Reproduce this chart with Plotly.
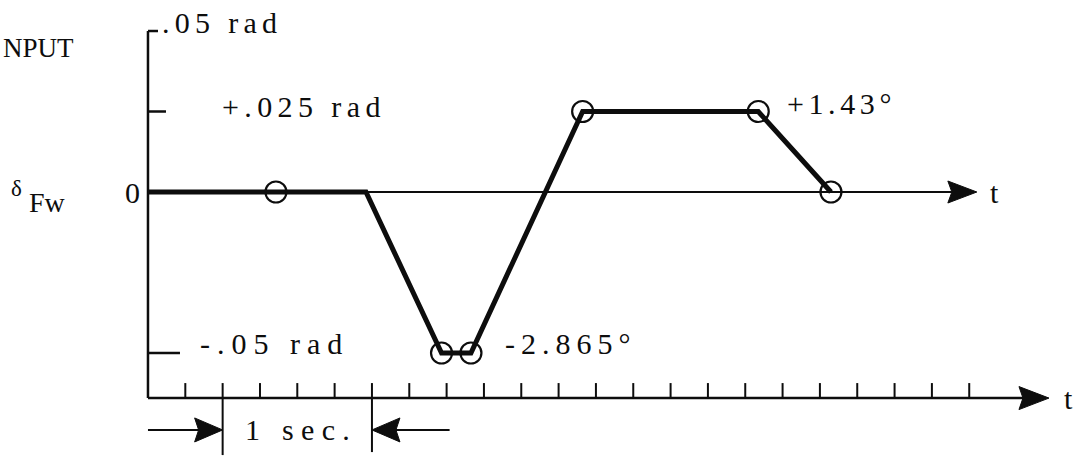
import plotly.graph_objects as go

W, H = 1086, 456

# Input profile: time in seconds, deflection in rad
time_s = [0.0, 1.46, 1.966, 2.163, 2.911, 4.087, 4.574]
delta_rad = [0.0, 0.0, -0.05, -0.05, 0.025, 0.025, 0.0]

# Circled points on the profile
mark_time = [0.857, 1.966, 2.163, 2.911, 4.087, 4.574]
mark_rad = [0.0, -0.05, -0.05, 0.025, 0.025, 0.0]

# Vertical scale marks
scale_values = [0.05, 0.025, -0.05]
scale_labels = [".05 rad", "+.025 rad", "-.05 rad"]

# Quarter-second divisions on the time base
tick_times = [0.25, 0.5, 0.75, 1.0, 1.25, 1.5, 1.75, 2.0, 2.25, 2.5, 2.75,
              3.0, 3.25, 3.5, 3.75, 4.0, 4.25, 4.5, 4.75, 5.0, 5.25, 5.5]

X_RANGE = [-0.991, 6.282]
Y_RANGE = [-0.08199, 0.05963]
XPX = W / (X_RANGE[1] - X_RANGE[0])   # pixels per second
YPX = H / (Y_RANGE[1] - Y_RANGE[0])   # pixels per rad

T_AXIS_Y = -0.064        # level of the lower time base
ZERO_AXIS_END = 5.551    # tip of the arrow on the zero line
T_AXIS_END = 6.034       # tip of the arrow on the time base
DIM_Y = -0.0739          # level of the "1 sec." dimension arrows

FONT = dict(family="Liberation Serif", size=30, color="#0d0d0d")
INK = "#0d0d0d"


def dx(px):
    return px / XPX


def dy(px):
    return px / YPX


def spaced(text, px=6):
    return f'<span style="letter-spacing:{px}px">{text}</span>'


def head(tip_x, tip_y, direction, length=29, half=11, notch=4):
    bx = tip_x - direction * dx(length)
    nx = tip_x - direction * dx(length - notch)
    hy = dy(half)
    return dict(type="path", xref="x", yref="y",
                path=f"M {tip_x},{tip_y} L {bx},{tip_y + hy} L {nx},{tip_y} "
                     f"L {bx},{tip_y - hy} Z",
                fillcolor=INK, line=dict(color=INK, width=1), layer="above")


def seg(x0, y0, x1, y1, width=2.5):
    return dict(type="line", xref="x", yref="y", x0=x0, y0=y0, x1=x1, y1=y1,
                line=dict(color=INK, width=width), layer="below")


shapes = []
# vertical axis with its top hook
shapes.append(seg(0, scale_values[0], 0, T_AXIS_Y))
shapes.append(seg(0, scale_values[0], dx(10), scale_values[0]))
# scale ticks
shapes.append(seg(0, scale_values[1], dx(18), scale_values[1]))
shapes.append(seg(0, scale_values[2], dx(32), scale_values[2]))
# zero line with arrow
shapes.append(seg(0, 0, ZERO_AXIS_END - dx(25), 0, width=2))
shapes.append(head(ZERO_AXIS_END, 0, 1))
# time base with divisions and arrow
shapes.append(seg(0, T_AXIS_Y, T_AXIS_END - dx(25), T_AXIS_Y))
for t in tick_times:
    shapes.append(seg(t, T_AXIS_Y, t, T_AXIS_Y + dy(15), width=2))
shapes.append(head(T_AXIS_END, T_AXIS_Y, 1, length=30, half=11.5))
# "1 sec." dimension
shapes.append(seg(0.5, T_AXIS_Y, 0.5, T_AXIS_Y - dy(57), width=2))
shapes.append(seg(1.5, T_AXIS_Y, 1.5, T_AXIS_Y - dy(54), width=2))
shapes.append(seg(0.0, DIM_Y, 0.5 - dx(22), DIM_Y, width=2))
shapes.append(head(0.5, DIM_Y, 1, length=28, half=12))
shapes.append(seg(1.5 + dx(22), DIM_Y, 2.02, DIM_Y, width=2))
shapes.append(head(1.5, DIM_Y, -1, length=28, half=12))

fig = go.Figure()
fig.add_trace(go.Scatter(x=time_s, y=delta_rad, mode="lines",
                         line=dict(color=INK, width=5), hoverinfo="skip"))
fig.add_trace(go.Scatter(x=mark_time, y=mark_rad, mode="markers",
                         marker=dict(symbol="circle-open", size=21, color=INK,
                                     line=dict(color=INK, width=2.2)),
                         hoverinfo="skip"))


def label(text, x, y, xshift=0, yshift=0, xanchor="left", **kw):
    f = dict(FONT)
    f.update(kw.pop("font", {}))
    fig.add_annotation(text=text, x=x, y=y, xref=kw.pop("xref", "x"),
                       yref=kw.pop("yref", "y"), xshift=xshift, yshift=yshift,
                       xanchor=xanchor, yanchor="middle", showarrow=False,
                       font=f, **kw)


label(spaced(scale_labels[0], 5.3), 0, scale_values[0], xshift=12, yshift=9)
label(spaced(scale_labels[1], 5.4), 0, scale_values[1], xshift=72, yshift=5)
label(spaced(scale_labels[2], 7), 0, scale_values[2], xshift=50, yshift=10)
label("0", 0, 0, xshift=-6, xanchor="right")
label(spaced("-2.865°", 6), mark_time[2], mark_rad[2], xshift=32, yshift=10)
label(spaced("+1.43°", 4.6), mark_time[4], mark_rad[4], xshift=27, yshift=8)
label("NPUT", 0, 0.895, xref="paper", yref="paper", xshift=1,
      font=dict(size=27))
label("δ", 0, 0.586, xref="paper", yref="paper", xshift=9,
      font=dict(size=23))
label("Fw", 0, 0.555, xref="paper", yref="paper", xshift=27,
      font=dict(size=28))
label("t", ZERO_AXIS_END, 0, xshift=11)
label("t", T_AXIS_END, T_AXIS_Y, xshift=13)
label(spaced("1 sec.", 7.3), 1.0, DIM_Y, xanchor="center", xshift=4)

fig.update_layout(
    width=W, height=H,
    margin=dict(l=0, r=0, t=0, b=0),
    paper_bgcolor="white", plot_bgcolor="white",
    showlegend=False,
    shapes=shapes,
    xaxis=dict(range=X_RANGE, visible=False, fixedrange=True),
    yaxis=dict(range=Y_RANGE, visible=False, fixedrange=True),
)

fig.write_html("out.html", config={"displayModeBar": False})
